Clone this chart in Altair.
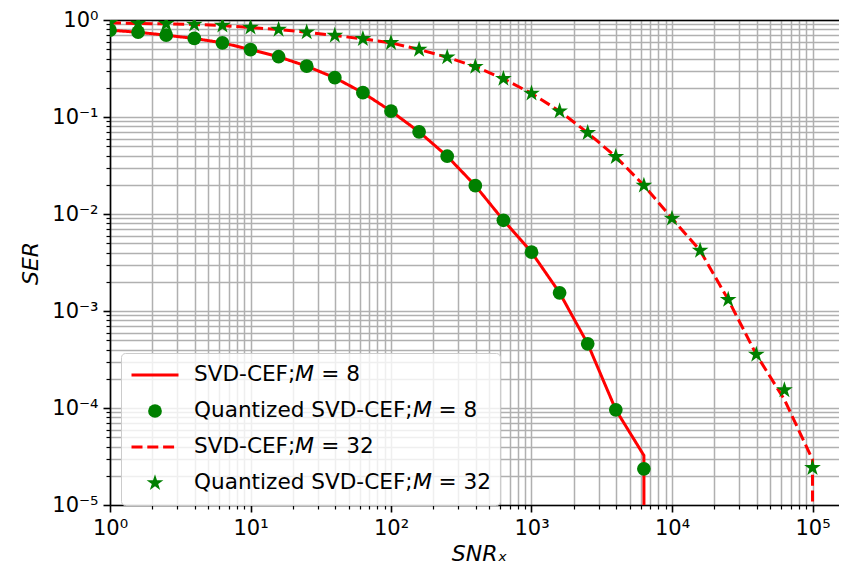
import altair as alt
import pandas as pd

# ---------------- data ----------------
# SNR in dB (2 dB steps); SNR_x = 10^(dB/10)
snr_db_svd_m8 = [0, 2, 4, 6, 8, 10, 12, 14, 16, 18, 20, 22, 24, 26, 28, 30, 32, 34, 36, 38, 40]
ser_svd_m8 = [0.785, 0.748, 0.697, 0.645, 0.582, 0.496, 0.418, 0.334, 0.254, 0.178, 0.115,
              0.0703, 0.0394, 0.0196, 0.00862, 0.00404, 0.00154, 0.000459, 9.58e-5, 3.24e-5, 0.0]

snr_db_q_m8 = [0, 2, 4, 6, 8, 10, 12, 14, 16, 18, 20, 22, 24, 26, 28, 30, 32, 34, 36, 38]
ser_q_m8 = [0.785, 0.748, 0.697, 0.645, 0.582, 0.496, 0.418, 0.334, 0.254, 0.178, 0.115,
            0.0703, 0.0394, 0.0196, 0.00862, 0.00404, 0.00154, 0.000459, 9.58e-5, 2.36e-5]

snr_db_svd_m32 = [0, 2, 4, 6, 8, 10, 12, 14, 16, 18, 20, 22, 24, 26, 28, 30, 32, 34, 36, 38,
                  40, 42, 44, 46, 48, 50, 52]
ser_svd_m32 = [0.936, 0.92, 0.914, 0.899, 0.878, 0.837, 0.798, 0.748, 0.692, 0.640, 0.582,
               0.496, 0.413, 0.330, 0.248, 0.175, 0.115, 0.0687, 0.0389, 0.0197, 0.0090,
               0.0042, 0.00131, 0.000356, 0.000122, 2.94e-5, 0.0]

snr_db_q_m32 = [0, 2, 4, 6, 8, 10, 12, 14, 16, 18, 20, 22, 24, 26, 28, 30, 32, 34, 36, 38,
                40, 42, 44, 46, 48, 50]
ser_q_m32 = [0.936, 0.92, 0.914, 0.899, 0.878, 0.837, 0.798, 0.748, 0.692, 0.640, 0.582,
             0.496, 0.413, 0.330, 0.248, 0.175, 0.115, 0.0687, 0.0389, 0.0197, 0.0090,
             0.0042, 0.00131, 0.000356, 0.000153, 2.42e-5]

series_names = ["SVD-CEF;\U0001D614 = 8", "Quantized SVD-CEF;\U0001D614 = 8",
                "SVD-CEF;\U0001D614 = 32", "Quantized SVD-CEF;\U0001D614 = 32"]

x_major = [1, 10, 100, 1000, 10000, 100000]
x_major_labels = ["10\u2070", "10\u00b9", "10\u00b2", "10\u00b3", "10\u2074", "10\u2075"]
y_major = [1e-5, 1e-4, 1e-3, 1e-2, 1e-1, 1]
y_major_labels = ["10\u207b\u2075", "10\u207b\u2074", "10\u207b\u00b3", "10\u207b\u00b2",
                  "10\u207b\u00b9", "10\u2070"]
minor_mult = [2, 3, 4, 5, 6, 7, 8, 9]

PLOT_W = 729
PLOT_H = 485
x_max = 10 ** (PLOT_W / 140.5)   # keeps 140.5 px per decade, as in the reference

# ---------------- tables ----------------
def table(dbs, vals, name):
    return [{"snr_db": d, "ser": v, "series": name} for d, v in zip(dbs, vals)]

lines_df = pd.DataFrame(table(snr_db_svd_m8, ser_svd_m8, series_names[0]) +
                        table(snr_db_svd_m32, ser_svd_m32, series_names[2]))
points_df = pd.DataFrame(table(snr_db_q_m8, ser_q_m8, series_names[1]) +
                         table(snr_db_q_m32, ser_q_m32, series_names[3]))

x_vals = [m * v for v in x_major for m in [1] + minor_mult if m * v <= x_max]
y_vals = [m * v for v in y_major for m in [1] + minor_mult if m * v <= 1]


def label_expr(values, labels):
    parts = [f"abs(datum.value - {v!r}) < {v * 1e-6!r} ? '{lab}'" for v, lab in zip(values, labels)]
    return " : ".join(parts) + " : ''"

major_test = "abs(log(datum.value)/LN10 - round(log(datum.value)/LN10)) < 1e-6"
tick_size = {"condition": {"test": major_test, "value": 7}, "value": 4}
tick_width = {"condition": {"test": major_test, "value": 1.6}, "value": 1.2}

FONT = "DejaVu Sans"
common_axis = dict(grid=True, gridColor="#b0b0b0", gridWidth=1.5, gridOpacity=1,
                   domainColor="black", domainWidth=1.6, tickColor="black",
                   tickSize=tick_size, tickWidth=tick_width,
                   labelFont=FONT, labelFontSize=21, labelColor="black",
                   labelOverlap=False, labelFlush=False,
                   titleFont=FONT, titleFontSize=22, titleFontStyle="italic",
                   titleFontWeight="normal", titleColor="black", titleBaseline="middle")

x_axis = alt.Axis(values=x_vals, labelExpr=label_expr(x_major, x_major_labels),
                  labelPadding=5, title="SNR\u2093", titleX=369, titleY=48, titleAngle=0,
                  **common_axis)
x_axis_top = alt.Axis(orient="top", labels=False, ticks=False, grid=False, domain=True,
                      domainColor="black", domainWidth=1.6, title=None)
y_axis = alt.Axis(values=y_vals, labelExpr=label_expr(y_major, y_major_labels),
                  labelPadding=5, title="SER", titleX=-80, titleY=243, titleAngle=-90,
                  **common_axis)

x_scale = alt.Scale(type="log", domain=[1, x_max], nice=False)
y_scale = alt.Scale(type="log", domain=[1e-5, 1], nice=False)

STAR = ("M0,-1L0.2245,-0.309L0.9511,-0.309L0.3633,0.118L0.5878,0.809L0,0.382"
        "L-0.5878,0.809L-0.3633,0.118L-0.9511,-0.309L-0.2245,-0.309Z")

legend = alt.Legend(title=None, orient="none", legendX=11, legendY=333,
                    fillColor="rgba(255,255,255,0.8)", strokeColor="#cccccc",
                    cornerRadius=4, padding=9, labelFont=FONT, labelFontSize=21.6,
                    labelColor="black", rowPadding=10, labelOffset=14,
                    symbolStrokeWidth=3, labelLimit=0, clipHeight=26)

color = alt.Color("series:N", scale=alt.Scale(domain=series_names,
                  range=["#ff0000", "#008000", "#ff0000", "#008000"]), legend=legend)
dash = alt.StrokeDash("series:N", scale=alt.Scale(domain=series_names,
                      range=[[1, 0], [1, 0], [11, 4.8], [1, 0]]), legend=legend)
swidth = alt.StrokeWidth("series:N", scale=alt.Scale(type="ordinal", domain=series_names,
                         range=[3, 0, 3, 0]), legend=legend)
shape = alt.Shape("series:N", scale=alt.Scale(domain=series_names,
                  range=["stroke", "circle", "stroke", STAR]), legend=legend)
size = alt.Size("series:N", scale=alt.Scale(type="ordinal", domain=series_names,
                range=[2209, 189, 2209, 310]), legend=legend)

lines = alt.Chart(lines_df).transform_calculate(
    snr="pow(10, datum.snr_db / 10)",
    ser_plot="max(datum.ser, 1e-300)",
).mark_line(clip=True).encode(
    x=alt.X("snr:Q", scale=x_scale, axis=x_axis),
    y=alt.Y("ser_plot:Q", scale=y_scale, axis=y_axis),
    color=color, strokeDash=dash, strokeWidth=swidth,
    order="snr_db:Q",
)

points = alt.Chart(points_df).transform_calculate(
    snr="pow(10, datum.snr_db / 10)",
    ser_plot="datum.ser",
).mark_point(filled=True, opacity=1, clip=True).encode(
    x=alt.X("snr:Q", scale=x_scale, axis=x_axis_top),
    y=alt.Y("ser_plot:Q", scale=y_scale, axis=y_axis),
    color=color, shape=shape, size=size,
)

chart = alt.layer(lines, points).resolve_axis(x="independent").properties(
    width=PLOT_W, height=PLOT_H,
    autosize=alt.AutoSizeParams(type="none"),
    padding={"left": 102, "top": 12, "right": 0, "bottom": 60},
    background="white",
).configure_view(stroke=None).configure(font=FONT)

chart.save("out.html", embed_options={"renderer": "svg", "actions": False})
